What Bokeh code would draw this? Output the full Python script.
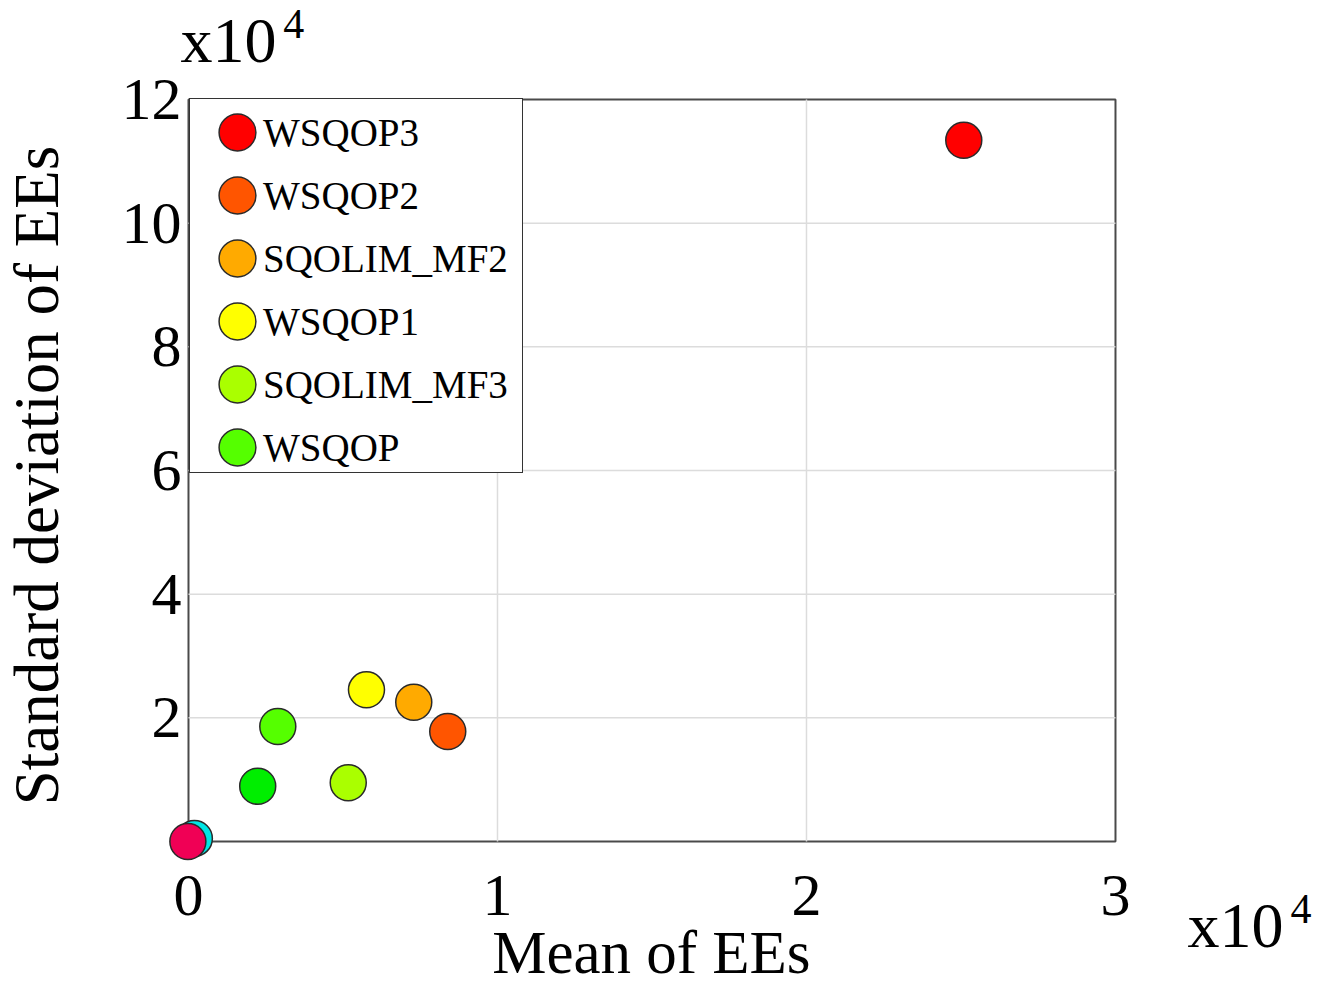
import math
from bokeh.plotting import figure
from bokeh.models import (ColumnDataSource, Legend, LegendItem, BoxAnnotation, Range1d, Label)
from bokeh.core.properties import value
from bokeh.embed import file_html
from bokeh.resources import INLINE

# ---- data (values in units of 10^4) ----
series_names = ["WSQOP3", "WSQOP2", "SQOLIM_MF2", "WSQOP1", "SQOLIM_MF3", "WSQOP", "", "", ""]
mean_ee = [2.509, 0.839, 0.729, 0.576, 0.517, 0.289, 0.224, 0.019, -0.002]
std_ee = [11.34, 1.779, 2.253, 2.453, 0.949, 1.860, 0.894, 0.05, 0.0]
colors = ["#ff0000", "#ff5500", "#ffaa00", "#ffff00", "#aaff00", "#55ff00",
          "#00ee00", "#00e5e5", "#f00055"]
x_ticks = [0, 1, 2, 3]
x_tick_labels = ["0", "1", "2", "3"]
y_ticks = [2, 4, 6, 8, 10, 12]
y_tick_labels = ["2", "4", "6", "8", "10", "12"]
x_grid = [1, 2]
y_grid = [2, 4, 6, 8, 10]
X_MIN, X_MAX = 0, 3
Y_MIN, Y_MAX = 0, 12

FONT = "Liberation Serif"

# the whole canvas is the plotting frame; axes are drawn as text/marks
p = figure(width=1332, height=991, output_backend="svg", toolbar_location=None,
           x_range=Range1d(-0.6084, 3.7023), y_range=Range1d(-2.426, 13.602),
           x_axis_location=None, y_axis_location=None,
           min_border=0)
p.outline_line_color = None
p.background_fill_color = "white"
p.border_fill_color = "white"
p.xgrid.visible = False
p.ygrid.visible = False

# grid lines restricted to the axes box
p.segment(x0=x_grid, x1=x_grid, y0=[Y_MIN] * len(x_grid), y1=[Y_MAX] * len(x_grid),
          line_color="#dcdcdc", line_width=1.5)
p.segment(x0=[X_MIN] * len(y_grid), x1=[X_MAX] * len(y_grid), y0=y_grid, y1=y_grid,
          line_color="#dcdcdc", line_width=1.5)

box = BoxAnnotation(left=X_MIN, right=X_MAX, bottom=Y_MIN, top=Y_MAX,
                    fill_alpha=0, line_color="#4a4a4a", line_alpha=1.0, line_width=2,
                    level="underlay")
p.add_layout(box)

# tick labels
p.text(x=x_ticks, y=[-0.881] * len(x_ticks), text=x_tick_labels,
       text_font=value(FONT), text_font_size=value("60px"), text_color="black",
       text_align="center", text_baseline="middle")
p.text(x=[-0.0227] * len(y_ticks), y=y_ticks, text=y_tick_labels,
       text_font=value(FONT), text_font_size=value("60px"), text_color="black",
       text_align="right", text_baseline="middle")

# data points
items = []
for name, mx, sy, c in zip(series_names, mean_ee, std_ee, colors):
    src = ColumnDataSource(dict(x=[mx], y=[sy]))
    r = p.ellipse("x", "y", source=src, width=36, height=36,
                  width_units="screen", height_units="screen",
                  fill_color=c, line_color="#2a2a2a", line_width=1.5)
    if name:
        items.append(LegendItem(label=name, renderers=[r]))

legend = Legend(items=items, location=(189, 518), glyph_width=46, glyph_height=46,
                spacing=17, padding=dict(left=24, right=14, top=10, bottom=2),
                label_standoff=3, label_text_color="black",
                label_text_font=FONT, label_text_font_size="39px",
                border_line_color="#333333", border_line_width=1.5, border_line_alpha=1.0,
                background_fill_color="white", background_fill_alpha=1.0, margin=0)
p.add_layout(legend)

# axis titles
p.add_layout(Label(x=1.498, y=-1.795, text="Mean of EEs", text_font=FONT,
                   text_font_size="61px", text_align="center", text_baseline="middle",
                   text_color="black"))
p.add_layout(Label(x=-0.4887, y=5.92, text="Standard deviation of EEs", text_font=FONT,
                   text_font_size="63px", text_align="center", text_baseline="middle",
                   text_color="black", angle=math.pi / 2))

# exponent labels
for (tx, ty, size, txt) in [(-0.0259, 12.955, "64px", "x10"), (0.307, 13.23, "42px", "4"),
                            (3.233, -1.359, "64px", "x10"), (3.566, -1.084, "42px", "4")]:
    p.add_layout(Label(x=tx, y=ty, text=txt, text_font=FONT, text_font_size=size,
                       text_align="left", text_baseline="middle", text_color="black"))

open("out.html", "w").write(file_html(p, INLINE))
